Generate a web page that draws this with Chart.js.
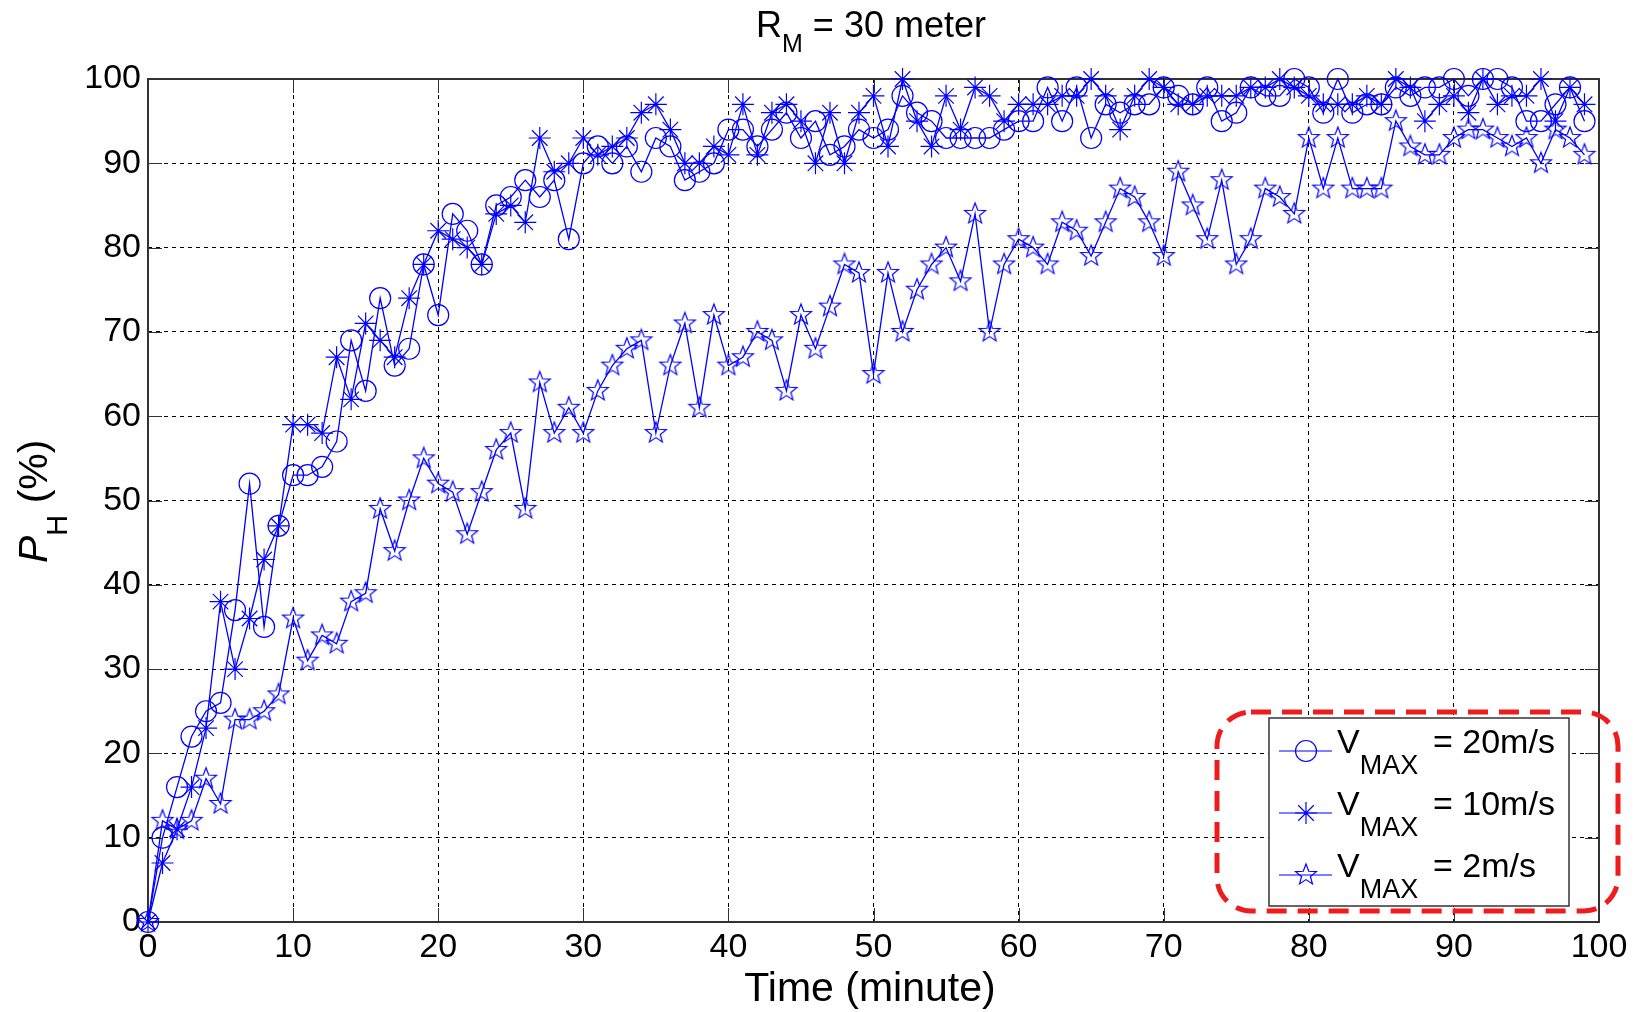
<!DOCTYPE html>
<html lang="en">
<head>
    <meta charset="UTF-8">
    <title>P_H vs Time, R_M = 30 meter</title>
    <script src="https://cdn.jsdelivr.net/npm/chart.js"></script>
    <style>
        body { margin: 0; background: #fff; }
        canvas { display: block; }
    </style>
</head>
<body>
    <canvas id="myChart" width="1637" height="1012"></canvas>
    <script>
        // time axis (minute) and the three series
        const minutes = [0,1,2,3,4,5,6,7,8,9,10,11,12,13,14,15,16,17,18,19,20,21,22,23,24,25,26,27,28,29,30,31,32,33,34,35,36,37,38,39,40,41,42,43,44,45,46,47,48,49,50,51,52,53,54,55,56,57,58,59,60,61,62,63,64,65,66,67,68,69,70,71,72,73,74,75,76,77,78,79,80,81,82,83,84,85,86,87,88,89,90,91,92,93,94,95,96,97,98,99];

        const v20 = [0,10,16,22,25,26,37,52,35,47,53,53,54,57,69,63,74,66,68,78,
                     72,84,82,78,85,86,88,86,88,81,90,92,90,92,89,93,92,88,89,90,
                     94,94,92,94,96,93,95,91,92,94,93,94,98,96,95,93,93,93,93,94,
                     95,95,99,95,99,93,97,96,97,97,99,98,97,99,95,96,99,98,98,100,
                     99,96,100,96,97,97,99,98,99,99,100,98,100,100,99,95,95,97,99,95];

        const v10 = [0,7,11,16,23,38,30,36,43,47,59,59,58,67,62,71,69,67,74,78,
                     82,81,80,78,84,85,83,93,89,90,93,91,92,93,96,97,94,90,90,92,
                     91,97,91,96,97,95,90,96,90,96,98,92,100,95,92,98,94,99,98,95,
                     97,97,97,98,98,100,98,94,98,100,99,97,97,98,98,98,99,99,100,99,
                     98,97,97,97,98,97,100,99,95,97,98,96,100,97,98,98,100,95,99,97];

        const v2 = [0,12,11,12,17,14,24,24,25,27,36,31,34,33,38,39,49,44,50,55,
                    52,51,46,51,56,58,49,64,58,61,58,63,66,68,69,58,66,71,61,72,
                    66,67,70,69,63,72,68,73,78,77,65,77,70,75,78,80,76,84,70,78,
                    81,80,78,83,82,79,83,87,86,83,79,89,85,81,88,78,81,87,86,84,
                    93,87,93,87,87,87,95,92,91,91,93,94,94,93,92,93,90,94,93,91];

        const seriesNames = ['20m/s', '10m/s', '2m/s'];
        const xTicks = [0,10,20,30,40,50,60,70,80,90,100];
        const yTicks = [0,10,20,30,40,50,60,70,80,90,100];

        const FONT = "'Liberation Sans', Arial, Helvetica, sans-serif";
        const BLUE = '#0000ff';
        const AXIS = '#333333';

        // five-pointed star marker, outline only
        function makePentagram(r) {
            const size = Math.ceil(r * 2 + 4);
            const c = document.createElement('canvas');
            c.width = size;
            c.height = size;
            const g = c.getContext('2d');
            g.strokeStyle = BLUE;
            g.lineWidth = 1.2;
            g.beginPath();
            for (let k = 0; k < 10; k++) {
                const rad = k % 2 === 0 ? r : r * 0.42;
                const a = -Math.PI / 2 + k * Math.PI / 5;
                const px = size / 2 + rad * Math.cos(a);
                const py = size / 2 + rad * Math.sin(a);
                if (k === 0) g.moveTo(px, py); else g.lineTo(px, py);
            }
            g.closePath();
            g.stroke();
            return c;
        }
        const starMarker = makePentagram(11);

        function toPoints(values) {
            return minutes.map((m, i) => ({ x: m, y: values[i] }));
        }

        function roundedRect(ctx, x, y, w, h, r) {
            ctx.beginPath();
            ctx.moveTo(x + r, y);
            ctx.arcTo(x + w, y, x + w, y + h, r);
            ctx.arcTo(x + w, y + h, x, y + h, r);
            ctx.arcTo(x, y + h, x, y, r);
            ctx.arcTo(x, y, x + w, y, r);
            ctx.closePath();
        }

        // box, inward tick marks, title and axis labels with subscripts
        const framePlugin = {
            id: 'frame',
            beforeDatasetsDraw(chart) {
                const { ctx, chartArea: a, scales } = chart;
                ctx.save();
                ctx.strokeStyle = AXIS;
                ctx.lineWidth = 1;
                const tl = 14;
                xTicks.forEach(v => {
                    const x = Math.round(scales.x.getPixelForValue(v)) + 0.5;
                    ctx.beginPath();
                    ctx.moveTo(x, a.bottom); ctx.lineTo(x, a.bottom - tl);
                    ctx.moveTo(x, a.top); ctx.lineTo(x, a.top + tl);
                    ctx.stroke();
                });
                yTicks.forEach(v => {
                    const y = Math.round(scales.y.getPixelForValue(v)) + 0.5;
                    ctx.beginPath();
                    ctx.moveTo(a.left, y); ctx.lineTo(a.left + tl, y);
                    ctx.moveTo(a.right, y); ctx.lineTo(a.right - tl, y);
                    ctx.stroke();
                });
                ctx.lineWidth = 2;
                ctx.strokeRect(a.left, a.top, a.right - a.left, a.bottom - a.top);
                ctx.restore();
            },
            afterDraw(chart) {
                const ctx = chart.ctx;
                ctx.save();
                ctx.fillStyle = '#000';
                ctx.textBaseline = 'alphabetic';
                ctx.textAlign = 'left';

                // title: R_M = 30 meter
                ctx.font = `36px ${FONT}`;
                const w1 = ctx.measureText('R').width;
                const w3 = ctx.measureText(' = 30 meter').width;
                ctx.font = `25px ${FONT}`;
                const w2 = ctx.measureText('M').width;
                let tx = 871 - (w1 + w2 + w3) / 2;
                ctx.font = `36px ${FONT}`;
                ctx.fillText('R', tx, 37);
                ctx.font = `25px ${FONT}`;
                ctx.fillText('M', tx + w1, 52);
                ctx.font = `36px ${FONT}`;
                ctx.fillText(' = 30 meter', tx + w1 + w2, 37);

                // x label
                ctx.font = `41px ${FONT}`;
                ctx.textAlign = 'center';
                ctx.fillText('Time (minute)', 870, 1001);

                // y label: P_H (%)
                ctx.textAlign = 'left';
                ctx.translate(47, 563);
                ctx.rotate(-Math.PI / 2);
                ctx.font = `italic 41px ${FONT}`;
                ctx.fillText('P', 0, 0);
                const pw = ctx.measureText('P').width;
                ctx.font = `29px ${FONT}`;
                ctx.fillText('H', pw, 20);
                const hw = ctx.measureText('H').width;
                ctx.font = `41px ${FONT}`;
                ctx.fillText(' (%)', pw + hw, 0);
                ctx.restore();
            }
        };

        const legendPlugin = {
            id: 'boxedLegend',
            afterDraw(chart) {
                const ctx = chart.ctx;
                ctx.save();

                // red dashed rounded frame around the legend
                ctx.strokeStyle = '#ee1c1c';
                ctx.lineWidth = 5;
                ctx.setLineDash([20, 11]);
                roundedRect(ctx, 1217, 712, 401, 199, 34);
                ctx.stroke();
                ctx.setLineDash([]);

                ctx.fillStyle = '#fff';
                ctx.fillRect(1269, 718, 300, 188);
                ctx.strokeStyle = AXIS;
                ctx.lineWidth = 1.5;
                ctx.strokeRect(1269, 718, 300, 188);

                const rows = [753, 815, 877];
                chart.data.datasets.forEach((ds, i) => {
                    const y = rows[i];
                    const my = y - 2;
                    ctx.strokeStyle = BLUE;
                    ctx.lineWidth = 1.2;
                    ctx.beginPath();
                    ctx.moveTo(1279, my);
                    ctx.lineTo(1332, my);
                    ctx.stroke();
                    ctx.fillStyle = 'rgba(0,0,0,0)';
                    Chart.helpers.drawPoint(ctx, {
                        pointStyle: ds.pointStyle,
                        radius: ds.pointRadius,
                        borderWidth: 1.2,
                        rotation: 0
                    }, 1306, my);

                    ctx.fillStyle = '#000';
                    ctx.textAlign = 'left';
                    ctx.font = `34px ${FONT}`;
                    ctx.fillText('V', 1337, y);
                    const vw = ctx.measureText('V').width;
                    ctx.font = `27px ${FONT}`;
                    ctx.fillText('MAX', 1337 + vw, y + 21);
                    ctx.font = `34px ${FONT}`;
                    ctx.fillText('= ' + seriesNames[i], 1433, y);
                });
                ctx.restore();
            }
        };

        Chart.defaults.color = '#000';
        Chart.defaults.font.family = FONT;

        const lineStyle = {
            borderColor: BLUE,
            backgroundColor: 'rgba(0,0,0,0)',
            pointBorderColor: BLUE,
            pointBackgroundColor: 'rgba(0,0,0,0)',
            borderWidth: 1.3,
            pointBorderWidth: 1.2,
            tension: 0,
            clip: false
        };

        const ctx = document.getElementById('myChart').getContext('2d');
        new Chart(ctx, {
            type: 'line',
            data: {
                datasets: [
                    { label: 'V_MAX = 20m/s', data: toPoints(v20), pointStyle: 'circle', pointRadius: 10.5, ...lineStyle },
                    { label: 'V_MAX = 10m/s', data: toPoints(v10), pointStyle: 'star', pointRadius: 11, ...lineStyle },
                    { label: 'V_MAX = 2m/s', data: toPoints(v2), pointStyle: starMarker, pointRadius: 11, ...lineStyle }
                ]
            },
            options: {
                responsive: false,
                animation: false,
                events: [],
                layout: { padding: { top: 79, right: 38, left: 0, bottom: 0 } },
                plugins: {
                    legend: { display: false },
                    tooltip: { enabled: false },
                    title: { display: false }
                },
                scales: {
                    x: {
                        type: 'linear',
                        min: 0,
                        max: 100,
                        afterBuildTicks: scale => { scale.ticks = xTicks.map(v => ({ value: v })); },
                        afterFit: scale => { scale.height = 90; },
                        grid: { color: '#000', lineWidth: 1, drawTicks: false },
                        border: { display: false, dash: [4, 4] },
                        ticks: { font: { size: 34 }, padding: 5, maxRotation: 0, autoSkip: false }
                    },
                    y: {
                        min: 0,
                        max: 100,
                        afterBuildTicks: scale => { scale.ticks = yTicks.map(v => ({ value: v })); },
                        afterFit: scale => { scale.width = 148; },
                        grid: { color: '#000', lineWidth: 1, drawTicks: false },
                        border: { display: false, dash: [4, 4] },
                        ticks: { font: { size: 34 }, padding: 7, autoSkip: false }
                    }
                }
            },
            plugins: [framePlugin, legendPlugin]
        });
    </script>
</body>
</html>
